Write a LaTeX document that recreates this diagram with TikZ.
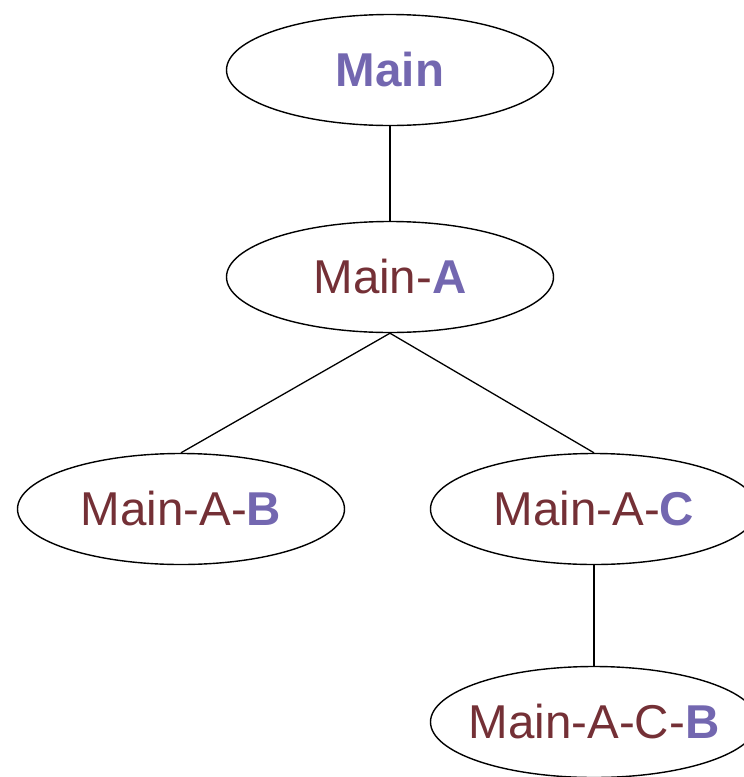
\documentclass[tikz,border=0pt]{standalone}
\usepackage{fontspec}
\setmainfont{Liberation Sans}
\usetikzlibrary{shapes.geometric}
\definecolor{keypurple}{RGB}{115,103,176}
\definecolor{pathred}{RGB}{116,48,54}
\begin{document}
\begin{tikzpicture}[x=1pt,y=1pt,
  treenode/.style={ellipse,draw=black,line width=1.4pt,minimum width=327pt,minimum height=111pt,
    inner xsep=-30pt,inner ysep=0pt,
    font=\fontsize{47.5}{52}\selectfont,text=pathred},
  link/.style={draw=black,line width=1.3pt}]
\useasboundingbox (0,0) rectangle (744,-777);
\node[treenode] (main) at (390,-70) {\textcolor{keypurple}{\textbf{Main}}};
\node[treenode] (mainA) at (390,-277) {Main-\textcolor{keypurple}{\textbf{A}}};
\node[treenode] (mainAB) at (181,-509) {Main-A-\textcolor{keypurple}{\textbf{B}}};
\node[treenode] (mainAC) at (594,-509) {Main-A-\textcolor{keypurple}{\textbf{C}}};
\node[treenode] (mainACB) at (594,-722) {Main-A-C-\textcolor{keypurple}{\textbf{B}}};
\draw[link] (main.south) -- (mainA.north);
\draw[link] (mainA.south) -- (mainAB.north);
\draw[link] (mainA.south) -- (mainAC.north);
\draw[link] (mainAC.south) -- (mainACB.north);
\end{tikzpicture}
\end{document}
